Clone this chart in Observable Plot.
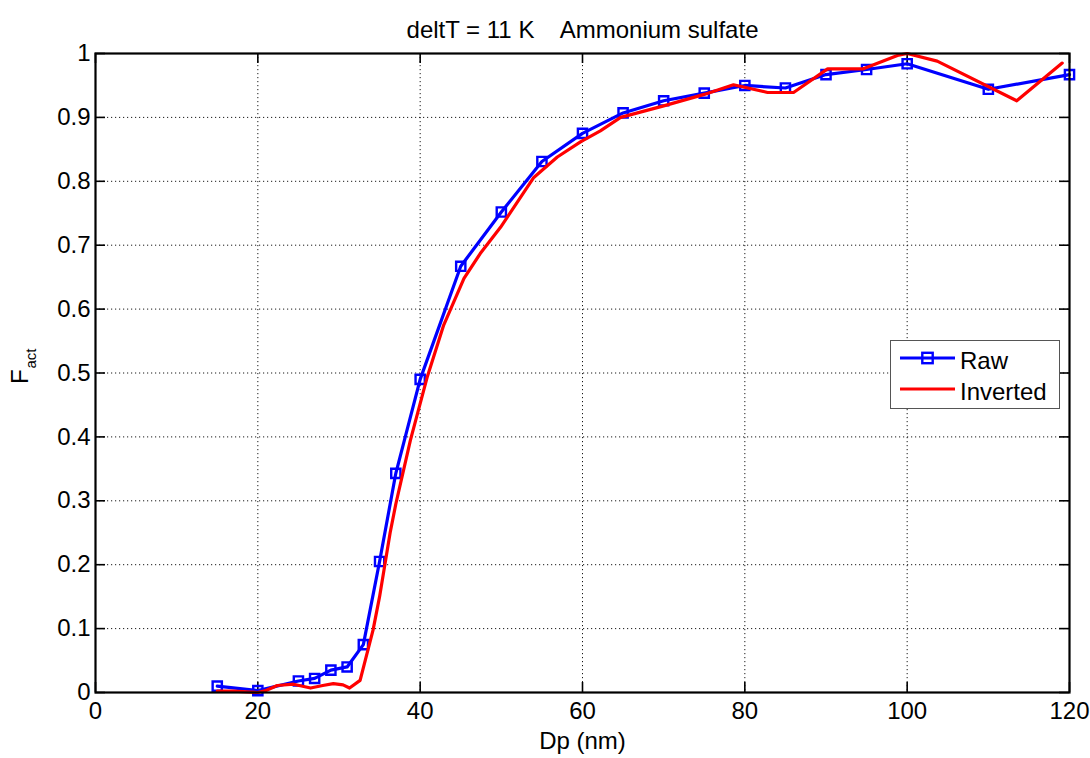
<!DOCTYPE html>
<html><head><meta charset="utf-8">
<script src="https://cdn.jsdelivr.net/npm/d3@7"></script>
<script src="https://cdn.jsdelivr.net/npm/@observablehq/plot@0.6"></script>
<style>
html,body{margin:0;padding:0;background:#fff;font-family:"Liberation Sans",Arial,sans-serif;}
#wrap{position:relative;width:1090px;height:758px;overflow:hidden;}
#chart svg{display:block;}
#legend{position:absolute;left:890px;top:340px;}
</style></head>
<body><div id="wrap"><div id="chart"></div><div id="legend"></div></div>
<script>
// ---- data ----
const rawDp   = [15, 20, 25, 27, 29, 31, 33, 35, 37, 40, 45, 50, 55, 60, 65, 70, 75, 80, 85, 90, 95, 100, 110, 120];
const rawFact = [0.010, 0.003, 0.018, 0.022, 0.035, 0.040, 0.075, 0.205, 0.343, 0.490, 0.667, 0.752, 0.831, 0.875, 0.907, 0.926, 0.938, 0.950, 0.946, 0.967, 0.975, 0.984, 0.944, 0.967];

const invDp   = [15, 17, 20, 21, 22.4, 24.4, 26.5, 28, 29.3, 30.5, 31.3, 32.6, 34.2, 35, 36.3, 37, 38.8, 40.9, 42.9, 45.4, 47.4, 49.9, 54, 56.9, 59.8, 62.2, 64.7, 70, 75, 78.6, 82.8, 86, 90.2, 94.6, 98.8, 100, 103.7, 113.5, 119.1];
const invFact = [0.002, 0.002, 0.000, 0.003, 0.011, 0.013, 0.007, 0.011, 0.014, 0.012, 0.007, 0.019, 0.098, 0.150, 0.250, 0.295, 0.395, 0.495, 0.575, 0.648, 0.687, 0.728, 0.806, 0.838, 0.862, 0.879, 0.900, 0.918, 0.936, 0.951, 0.939, 0.939, 0.976, 0.976, 0.997, 1.000, 0.988, 0.926, 0.985];

const xTicks = [0, 20, 40, 60, 80, 100, 120];
const yTicks = [0, 0.1, 0.2, 0.3, 0.4, 0.5, 0.6, 0.7, 0.8, 0.9, 1];
const xGridLines = [20, 40, 60, 80, 100];
const yGridLines = [0.1, 0.2, 0.3, 0.4, 0.5, 0.6, 0.7, 0.8, 0.9];

const titleText = "deltT = 11 K    Ammonium sulfate";
const xLabel = "Dp (nm)";
const yLabelMain = "F";
const yLabelSub = "act";
const seriesNames = ["Raw", "Inverted"];
const seriesColors = ["#0000ff", "#ff0000"];

// ---- tables for the library ----
const raw = rawDp.map((d, i) => ({dp: d, f: rawFact[i]}));
const inv = invDp.map((d, i) => ({dp: d, f: invFact[i]}));

const W = 1090, H = 758, mL = 95, mR = 21, mT = 53, mB = 66;
const plotW = W - mL - mR, plotH = H - mT - mB;
const tickLen = 10;
const FONT = "'Liberation Sans', Arial, sans-serif";
const fs = 24;

const chart = Plot.plot({
  width: W, height: H,
  marginLeft: mL, marginRight: mR, marginTop: mT, marginBottom: mB,
  style: {fontFamily: FONT, fontSize: fs + "px", color: "black", background: "white", overflow: "visible", whiteSpace: "pre"},
  x: {domain: [0, 120]},
  y: {domain: [0, 1]},
  marks: [
    Plot.gridX(xGridLines, {stroke: "black", strokeOpacity: 0.9, strokeWidth: 1, strokeDasharray: "1.2,2.8"}),
    Plot.gridY(yGridLines, {stroke: "black", strokeOpacity: 0.9, strokeWidth: 1, strokeDasharray: "1.2,2.8"}),
    Plot.tickX(xTicks, {x: d => d, insetTop: plotH - tickLen, stroke: "black", strokeWidth: 1.6}),
    Plot.tickX(xTicks, {x: d => d, insetBottom: plotH - tickLen, stroke: "black", strokeWidth: 1.6}),
    Plot.tickY(yTicks, {y: d => d, insetRight: plotW - tickLen, stroke: "black", strokeWidth: 1.6}),
    Plot.tickY(yTicks, {y: d => d, insetLeft: plotW - tickLen, stroke: "black", strokeWidth: 1.6}),
    Plot.axisX(xTicks, {tickSize: 0, tickPadding: 9, fontSize: fs, label: null, tickFormat: d => String(d)}),
    Plot.axisY(yTicks, {tickSize: 0, tickPadding: 5, fontSize: fs, label: null, tickFormat: d => String(d)}),
    Plot.line(raw, {x: "dp", y: "f", stroke: seriesColors[0], strokeWidth: 3.2}),
    Plot.dot(raw, {x: "dp", y: "f", symbol: "square", r: 5.2, stroke: seriesColors[0], strokeWidth: 2.4, fill: "none"}),
    Plot.line(inv, {x: "dp", y: "f", stroke: seriesColors[1], strokeWidth: 3.2}),
    Plot.frame({stroke: "black", strokeWidth: 2.2}),
    Plot.text([titleText], {text: d => d, frameAnchor: "top", lineAnchor: "bottom", dy: -16, fontSize: fs}),
    Plot.text([xLabel], {text: d => d, frameAnchor: "bottom", lineAnchor: "bottom", dy: 56, fontSize: fs}),
    Plot.text([yLabelMain], {text: d => d, frameAnchor: "left", rotate: -90, textAnchor: "start", lineAnchor: "bottom", dx: -68, dy: 11, fontSize: fs}),
    Plot.text([yLabelSub], {text: d => d, frameAnchor: "left", rotate: -90, textAnchor: "start", lineAnchor: "bottom", dx: -60, dy: -4.5, fontSize: 15})
  ]
});
document.getElementById("chart").appendChild(chart);

// ---- legend (HTML/SVG overlay) ----
const lw = 170, lh = 69;
const lg = d3.select("#legend").append("svg").attr("width", lw).attr("height", lh)
  .style("font-family", FONT);
lg.append("rect").attr("x", 0.5).attr("y", 0.5).attr("width", lw - 1).attr("height", lh - 1)
  .attr("fill", "white").attr("stroke", "#555").attr("stroke-width", 1);
const rows = [18, 49];
seriesNames.forEach((name, i) => {
  lg.append("line").attr("x1", 10).attr("x2", 65).attr("y1", rows[i]).attr("y2", rows[i])
    .attr("stroke", seriesColors[i]).attr("stroke-width", 3.2);
  if (i === 0) {
    lg.append("rect").attr("x", 37.5 - 5.2).attr("y", rows[i] - 5.2).attr("width", 10.4).attr("height", 10.4)
      .attr("fill", "none").attr("stroke", seriesColors[i]).attr("stroke-width", 2.4);
  }
  lg.append("text").attr("x", 70).attr("y", rows[i] + 11).attr("font-size", 24).attr("fill", "black").text(name);
});
</script>
</body></html>
